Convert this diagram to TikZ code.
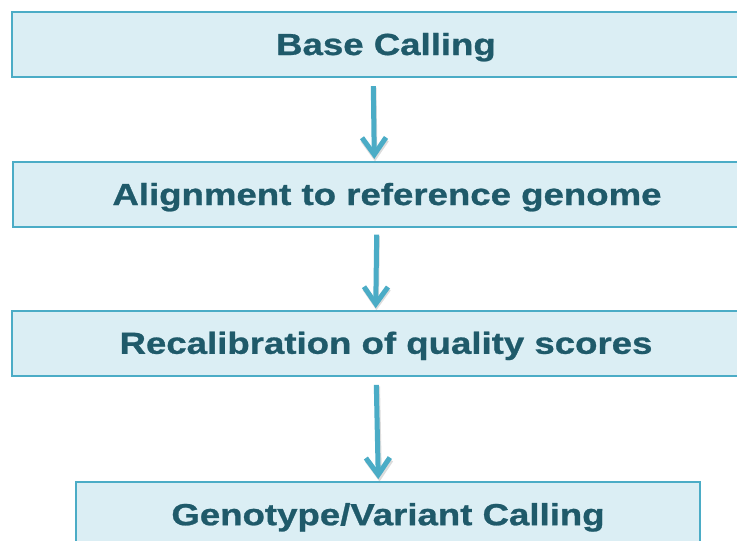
\documentclass[tikz,border=0pt]{standalone}
\usepackage{fontspec}
\setmainfont{Liberation Sans}[BoldFeatures={FakeBold=0.8}]
\usetikzlibrary{arrows.meta}
\definecolor{boxfill}{HTML}{DBEEF4}
\definecolor{boxline}{HTML}{4BACC6}
\definecolor{txt}{HTML}{1F5A6A}
\definecolor{arrcol}{HTML}{4BACC6}
\tikzset{
  stepbox/.style={draw=boxline, line width=2.2pt, fill=boxfill, rectangle,
    inner sep=0pt, minimum height=65pt, text=txt,
    font=\fontsize{30.5}{36}\selectfont\bfseries, text height=26pt, text depth=5pt},
  flow/.style={draw=arrcol, line width=5pt,
    -{Straight Barb[length=17pt, width=24pt]}},
  flowshadow/.style={draw=black!45, opacity=0.3, line width=5pt,
    -{Straight Barb[length=17pt, width=24pt]}}
}
\newcommand{\wide}[1]{\scalebox{1.2}[1]{#1}}
\begin{document}
\begin{tikzpicture}[x=1pt, y=-1pt]
\useasboundingbox (0,0) rectangle (737,541);
\clip (0,0) rectangle (737,541);
\node[stepbox, minimum width=748pt] (b1) at (386,44.5) {\wide{Base Calling}};
\node[stepbox, minimum width=748pt] (b2) at (387,194.5) {\wide{Alignment to reference genome}};
\node[stepbox, minimum width=748pt] (b3) at (386,343.3) {\wide{Recalibration of quality scores}};
\node[stepbox, minimum width=624pt] (b4) at (388,514.7) {\wide{Genotype/Variant Calling}};
% shadows
\draw[flowshadow] ([xshift=-12pt, yshift=-9.5pt]b1.south) -- ([xshift=-12pt, yshift=-0.5pt]b2.north);
\draw[flowshadow] ([xshift=-9.6pt, yshift=-8pt]b2.south) -- ([xshift=-9.6pt, yshift=-0.5pt]b3.north);
\draw[flowshadow] ([xshift=-8.5pt, yshift=-9.5pt]b3.south) -- ([xshift=-8.5pt, yshift=-0.5pt]b4.north);
% arrows
\draw[flow] ([xshift=-12.7pt, yshift=-8pt]b1.south) -- ([xshift=-12.7pt, yshift=2pt]b2.north);
\draw[flow] ([xshift=-10.3pt, yshift=-6.5pt]b2.south) -- ([xshift=-10.3pt, yshift=1.5pt]b3.north);
\draw[flow] ([xshift=-9.7pt, yshift=-8pt]b3.south) -- ([xshift=-9.7pt, yshift=2pt]b4.north);
\end{tikzpicture}
\end{document}
